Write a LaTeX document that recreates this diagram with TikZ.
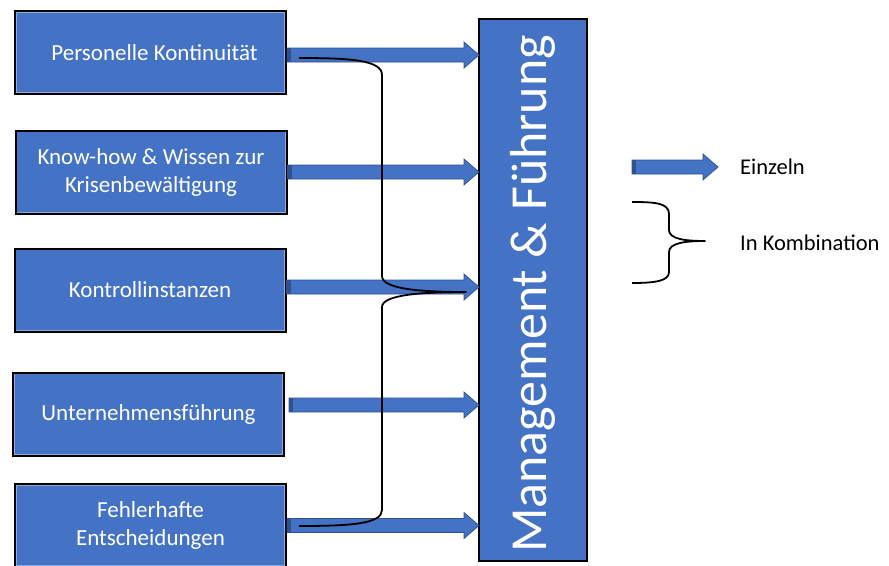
\documentclass[tikz,border=0pt]{standalone}
\usepackage{fontspec}
\setmainfont{Carlito}
\usetikzlibrary{calc}
\definecolor{boxblue}{HTML}{4472C4}
\definecolor{darkblue}{HTML}{2F528F}
\definecolor{lightblue}{HTML}{8FAADC}
\tikzset{
  srcbox/.style={fill=boxblue, draw=black, line width=2pt,
    minimum width=271pt, minimum height=83pt, inner sep=0pt,
    text=white, font=\fontsize{23}{28}\selectfont, align=center,
    path picture={\draw[lightblue, line width=3.5pt]
      (path picture bounding box.south west) rectangle (path picture bounding box.north east);}},
  mainbox/.style={fill=boxblue, draw=black, line width=2pt,
    minimum width=108pt, minimum height=542pt, inner sep=0pt,
    text=white, font=\fontsize{52}{62}\selectfont},
  legendtext/.style={anchor=west, inner sep=0pt, font=\fontsize{22.5}{27}\selectfont},
  bracket/.style={draw=black, line width=1.8pt, line join=round},
  arrowbody/.style={fill=boxblue, draw=darkblue, line width=0.7pt},
  arrowstub/.style={fill=darkblue},
}
% block arrow from #1 to the x of #2
\newcommand\blockarrow[2]{%
  \path[arrowbody] let \p1=#1, \p2=#2 in
    (\x1,\y1+7pt) -- (\x2-15pt,\y1+7pt) -- (\x2-15pt,\y1+13pt) -- (\x2,\y1)
    -- (\x2-15pt,\y1-13pt) -- (\x2-15pt,\y1-7pt) -- (\x1,\y1-7pt) -- cycle;
  \path[arrowstub] let \p1=#1 in (\x1,\y1-7pt) rectangle (\x1+4pt,\y1+7pt);
}
\begin{document}
\begin{tikzpicture}[x=1pt,y=-1pt]
  \useasboundingbox (0,0) rectangle (889,565);
  \clip (0,0) rectangle (889,565);

  \node[srcbox] (b1) at (150.5,52.5) {\hspace*{8pt}Personelle Kontinuität};
  \node[srcbox] (b2) at (151,172) {Know-how \& Wissen zur\\Krisenbewältigung};
  \node[srcbox] (b3) at (150,290) {Kontrollinstanzen};
  \node[srcbox] (b4) at (148.5,414) {Unternehmensführung};
  \node[srcbox] (b5) at (150.5,525.5) {Fehlerhafte\\Entscheidungen};

  \node[mainbox] (M) at (533,290) {\rotatebox{90}{Management \& Führung\hspace*{8pt}}};

  % single arrows
  \blockarrow{([yshift=-2.5pt]b1.east)}{([xshift=1pt]M.west)}
  \blockarrow{(b2.east)}{([xshift=1pt]M.west)}
  \blockarrow{([yshift=3pt]b3.east)}{([xshift=1pt]M.west)}
  \blockarrow{([xshift=4pt,yshift=9pt]b4.east)}{([xshift=1pt]M.west)}
  \blockarrow{(b5.east)}{([xshift=1pt]M.west)}

  % combination bracket
  \draw[bracket] (299,58) .. controls (350,58) and (382,60) .. (382,75)
    -- (382,276) .. controls (382,289) and (420,292) .. (466,292)
    .. controls (420,292) and (382,295) .. (382,307)
    -- (382,510) .. controls (382,524) and (350,526) .. (299,526);

  % legend
  \coordinate (la) at (632,167);
  \coordinate (lb) at (718,167);
  \blockarrow{(la)}{(lb)}
  \node[legendtext] (e) at (740,167) {Einzeln};

  \draw[bracket] (632,202) .. controls (655,202) and (669,203) .. (669,214)
    -- (669,230) .. controls (669,239) and (685,241) .. (705,241)
    .. controls (685,241) and (669,243) .. (669,252)
    -- (669,272) .. controls (669,281) and (655,283) .. (632,283);
  \node[legendtext] (k) at (740,243) {In Kombination};
\end{tikzpicture}
\end{document}
